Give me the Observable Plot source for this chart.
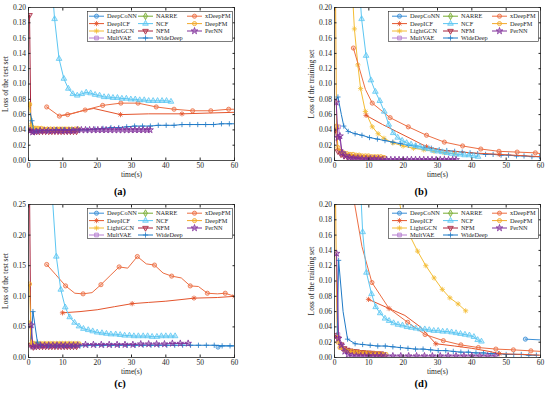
<!DOCTYPE html>
<html><head><meta charset="utf-8">
<script src="https://cdn.jsdelivr.net/npm/d3@7"></script>
<script src="https://cdn.jsdelivr.net/npm/@observablehq/plot@0.6"></script>
<style>
body{margin:0;background:#fff;font-family:"Liberation Serif",serif;}
#root{position:relative;width:550px;height:397px;overflow:hidden;background:#fff;}
.panel{position:absolute;width:240px;height:182px;}
.panel svg{overflow:visible;}
.legend{position:absolute;}
.tag{position:absolute;font-weight:bold;font-size:10.5px;transform:translate(-50%,-50%);color:#000;font-family:"Liberation Serif",serif;}
</style></head><body><div id="root"></div><script>
// ---------- names, ticks ----------
const seriesNames = ["DeepCoNN","NARRE","xDeepFM","DeepICF","NCF","DeepFM","LightGCN","NFM","PerNN","MultVAE","WideDeep"];
const xTicks = [0,10,20,30,40,50,60];
const yTicksTrain = [0,0.02,0.04,0.06,0.08,0.10,0.12,0.14,0.16,0.18,0.20];
const yTicksTestC = [0,0.05,0.10,0.15,0.20,0.25];
const panelTags = ["(a)","(b)","(c)","(d)"];
const yLabels = ["Loss of the test set","Loss of the training set","Loss of the test set","Loss of the training set"];
const xLabel = "time(s)";

// ---------- panel (a): test loss ----------
const a_DeepCoNN = [];
const a_NARRE = [];
const a_NCF = [[6.3,0.26,0],[7.6,0.185],[8.9,0.133],[10.3,0.107],[11.6,0.094],[12.9,0.087],[14.2,0.085],[15.5,0.087],[16.8,0.089],[18.1,0.088],[19.4,0.086],[20.7,0.085],[22.0,0.083],[23.3,0.083],[24.6,0.082],[25.9,0.082],[27.2,0.081],[28.5,0.081],[29.8,0.080],[31.1,0.080],[32.4,0.079],[33.7,0.079],[35.0,0.078],[36.3,0.078],[37.6,0.078],[38.9,0.078],[40.2,0.078],[41.5,0.077]];
const a_xDeepFM = [[5.3,0.070],[9.0,0.058],[11.4,0.060],[16.5,0.066],[21.6,0.072],[26.9,0.075],[31.9,0.075],[37.2,0.070],[42.4,0.067],[47.8,0.065],[53.1,0.065],[58.3,0.067],[60,0.067,0]];
const a_DeepICF = [[9.6,0.059,0],[12.5,0.061,0],[16.5,0.066,0],[19,0.068,0],[26.8,0.060],[35,0.061,0],[44.7,0.061],[60,0.063,0]];
const a_WideDeep = [[0.5,0.062,0],[1.0,0.052],[1.6,0.037],[2.4,0.039],[3.3,0.039],[5.6,0.039],[7.9,0.040],[10.2,0.040],[12.5,0.040],[14.8,0.040],[17.1,0.040],[19.4,0.041],[21.7,0.042],[24.0,0.043],[26.3,0.043],[28.6,0.044],[30.9,0.045],[33.2,0.045],[35.5,0.045],[37.8,0.046],[40.1,0.046],[42.4,0.046],[44.7,0.047],[47.0,0.047],[49.3,0.047],[51.6,0.047],[53.9,0.047],[56.2,0.048],[58.5,0.048],[60,0.048,0]];
const a_LightGCN = [[0.3,0.074],[0.8,0.046],[1.5,0.043],[2.5,0.042],[3.5,0.041],[4.5,0.041],[5.5,0.041],[6.5,0.041],[7.5,0.041],[8.5,0.041],[9.5,0.041],[10.5,0.041],[11.5,0.041],[12.5,0.041],[13.5,0.041],[14.5,0.041]];
const a_DeepFM = [[0.3,0.073],[1.0,0.044],[1.9,0.042],[2.8,0.042],[3.7,0.042],[4.6,0.041],[5.5,0.041],[6.4,0.041],[7.3,0.041],[8.2,0.041],[9.1,0.041],[10.0,0.041],[10.9,0.041],[11.8,0.041],[12.7,0.041],[13.6,0.041],[14.5,0.041]];
const a_NFM = [[0.3,0.190],[0.7,0.040],[1.4,0.038],[2.3,0.038],[3.2,0.038],[4.1,0.038],[5.0,0.038],[5.9,0.038],[6.8,0.038],[7.7,0.038],[8.6,0.038],[9.5,0.038],[10.4,0.038],[11.3,0.038],[12.2,0.038],[13.1,0.038],[14.0,0.038]];
const a_MultVAE = [[0.3,0.039],[1.2,0.039],[2.1,0.039],[3.0,0.039],[3.9,0.039],[4.8,0.039],[5.7,0.039],[6.6,0.039],[7.5,0.039],[8.4,0.039],[9.3,0.039],[10.2,0.039],[11.1,0.039],[12.0,0.039],[12.9,0.039],[13.8,0.039]];
const a_PerNN = [[0.5,0.039],[1.2,0.037],[2.2,0.038],[3.4,0.039],[4.6,0.039],[5.8,0.039],[7.0,0.039],[8.2,0.039],[9.4,0.039],[10.6,0.039],[11.8,0.039],[13.0,0.039],[14.2,0.040],[15.4,0.040],[16.6,0.040],[17.8,0.040],[19.0,0.040],[20.2,0.040],[21.4,0.040],[22.6,0.040],[23.8,0.040],[25.0,0.040],[26.2,0.040],[27.4,0.040],[28.6,0.040],[29.8,0.040],[31.0,0.040],[32.2,0.040],[33.4,0.040],[34.6,0.040],[35.4,0.040]];

// ---------- panel (b): training loss ----------
const b_DeepCoNN = [];
const b_NARRE = [];
const b_NCF = [[7.2,0.23,0],[7.9,0.185],[9.2,0.137],[10.6,0.105],[11.9,0.090],[13.2,0.078],[14.5,0.064],[15.8,0.047],[17.1,0.036],[18.4,0.030],[19.7,0.026],[21.0,0.023],[22.3,0.021],[23.6,0.019],[24.9,0.018],[26.2,0.016],[27.5,0.015],[28.8,0.013],[30.1,0.012],[31.4,0.011],[32.7,0.010],[34.0,0.009],[35.3,0.008],[36.6,0.008],[37.9,0.007],[39.2,0.007],[40.5,0.006],[41.8,0.005]];
const b_xDeepFM = [[5.5,0.147],[7.0,0.124,0],[9.0,0.093,0],[11.0,0.075],[16.2,0.056],[21.5,0.044],[26.8,0.033],[32.0,0.024],[37.3,0.019],[42.6,0.015],[47.9,0.012],[53.2,0.011],[58.5,0.010],[60,0.009,0]];
const b_DeepICF = [[9.2,0.059],[14,0.047,0],[18,0.038,0],[22,0.029,0],[26.8,0.018],[32,0.013,0],[40,0.010,0],[48,0.008],[60,0.005,0]];
const b_LightGCN = [[5.2,0.22,0],[5.8,0.172],[6.8,0.125],[7.6,0.094],[9.0,0.064],[11.0,0.044],[12.7,0.035],[14.4,0.029],[17.0,0.023],[20.0,0.019],[23.0,0.016],[26.0,0.014],[29.0,0.012],[32.0,0.010],[35.0,0.009]];
const b_WideDeep = [[0.5,0.080,0],[1.0,0.083],[2.0,0.060,0],[2.7,0.045],[4.0,0.038],[6.0,0.035],[8.0,0.033],[10.2,0.030],[12.5,0.028],[14.7,0.026],[17.0,0.024],[19.2,0.022],[21.5,0.020],[23.7,0.019],[26.0,0.017],[28.2,0.016],[30.5,0.014],[32.7,0.013],[35.0,0.012],[37.2,0.011],[39.5,0.010],[41.7,0.009],[44.0,0.008],[46.2,0.008],[48.5,0.007],[50.7,0.007],[53.0,0.006],[55.2,0.006],[57.5,0.005],[59.7,0.005]];
const b_PerNN = [[0.5,0.076],[1.0,0.030],[1.6,0.032],[2.2,0.010],[3.2,0.006],[4.4,0.004],[5.6,0.003],[6.8,0.003],[8.0,0.002],[9.2,0.002],[10.4,0.002],[11.6,0.002],[12.8,0.002],[14.0,0.001],[15.2,0.001],[16.4,0.001],[17.6,0.001],[18.8,0.001],[20.0,0.001],[21.2,0.001],[22.4,0.001],[23.6,0.001],[24.8,0.001],[26.0,0.001],[27.2,0.001],[28.4,0.001],[29.6,0.001],[30.8,0.001],[32.0,0.001],[33.2,0.001],[34.4,0.001],[35.4,0.001]];
const b_MultVAE = [[0.5,0.044],[1.2,0.044],[2.0,0.012],[2.9,0.008],[3.8,0.007],[4.7,0.006],[5.6,0.005],[6.5,0.005],[7.4,0.005],[8.3,0.004],[9.2,0.004],[10.1,0.004],[11.0,0.004],[11.9,0.004],[12.8,0.003],[13.7,0.003],[14.6,0.003]];
const b_DeepFM = [[0.3,0.22,0],[0.6,0.045],[1.0,0.017],[1.8,0.012],[2.7,0.010],[3.6,0.009],[4.5,0.008],[5.4,0.008],[6.3,0.007],[7.2,0.007],[8.1,0.006],[9.0,0.006],[9.9,0.006],[10.8,0.005],[11.7,0.005],[12.6,0.005],[13.5,0.005],[14.4,0.004]];
const b_NFM = [[0.3,0.040],[1.0,0.012],[1.9,0.008],[2.8,0.006],[3.7,0.005],[4.6,0.005],[5.5,0.004],[6.4,0.004],[7.3,0.004],[8.2,0.004],[9.1,0.003],[10.0,0.003],[10.9,0.003],[11.8,0.003],[12.7,0.003],[13.6,0.003]];

// ---------- panel (c): test loss ----------
const c_DeepCoNN = [[55.2,0.017],[56.6,0.019,0],[60,0.019,0]];
const c_NARRE = [];
const c_NCF = [[6.5,0.30,0],[8.1,0.165],[9.4,0.111],[10.7,0.082],[12.0,0.066],[13.4,0.057],[14.7,0.051],[16.0,0.047],[17.4,0.045],[18.7,0.043],[20.0,0.041],[21.4,0.040],[22.7,0.039],[24.0,0.038],[25.4,0.038],[26.7,0.037],[28.0,0.036],[29.4,0.036],[30.7,0.035],[32.0,0.035],[33.4,0.035],[34.7,0.035],[36.0,0.034],[37.4,0.034],[38.7,0.035],[40.0,0.035],[41.4,0.035],[42.7,0.035]];
const c_xDeepFM = [[5.3,0.152],[8.0,0.135,0],[10.8,0.117],[13.5,0.105,0],[15.9,0.104],[18.5,0.106,0],[21.1,0.119],[24.0,0.135,0],[26.4,0.148],[28.9,0.146,0],[31.7,0.165],[34.3,0.153,0],[36.7,0.151],[39.2,0.138,0],[41.7,0.133],[44.5,0.130,0],[47.1,0.117],[49.5,0.116,0],[52.1,0.105],[55.0,0.104,0],[57.3,0.105],[60,0.100,0]];
const c_DeepICF = [[9.9,0.073],[15,0.075,0],[20,0.078,0],[25,0.083,0],[30.2,0.088],[35,0.090,0],[40,0.092,0],[45,0.095,0],[48.2,0.097],[55,0.098,0],[60,0.100]];
const c_WideDeep = [[0.8,0.030,0],[1.3,0.075],[2.6,0.025],[3.5,0.020],[5.8,0.019],[8.1,0.019],[10.4,0.019],[12.7,0.019],[15.0,0.019],[17.3,0.020],[19.6,0.020],[21.9,0.020],[24.2,0.020],[26.5,0.020],[28.8,0.020],[31.1,0.020],[33.4,0.020],[35.7,0.020],[38.0,0.020],[40.3,0.020],[42.6,0.020],[44.9,0.020],[47.2,0.020],[49.5,0.020],[51.8,0.020],[54.1,0.020],[56.4,0.019],[58.7,0.019],[60,0.019,0]];
const c_LightGCN = [[0.3,0.060,0],[0.9,0.024],[1.8,0.023],[2.7,0.023],[3.6,0.023],[4.5,0.023],[5.4,0.023],[6.3,0.023],[7.2,0.023],[8.1,0.023],[9.0,0.023],[9.9,0.023],[10.8,0.023],[11.7,0.023],[12.6,0.023],[13.5,0.023],[14.4,0.023]];
const c_DeepFM = [[0.3,0.120],[0.8,0.030,0],[1.3,0.023],[2.2,0.022],[3.1,0.022],[4.0,0.022],[4.9,0.022],[5.8,0.022],[6.7,0.022],[7.6,0.022],[8.5,0.022],[9.4,0.022],[10.3,0.022],[11.2,0.022],[12.1,0.022],[13.0,0.022],[13.9,0.022],[14.8,0.022]];
const c_NFM = [[0.3,0.27,0],[0.7,0.020],[1.4,0.017],[2.3,0.018],[3.2,0.018],[4.1,0.018],[5.0,0.018],[5.9,0.018],[6.8,0.018],[7.7,0.018],[8.6,0.018],[9.5,0.018],[10.4,0.018],[11.3,0.018],[12.2,0.018],[13.1,0.018],[14.0,0.018]];
const c_MultVAE = [[0.4,0.020],[1.3,0.019],[2.2,0.019],[3.1,0.019],[4.0,0.019],[4.9,0.019],[5.8,0.019],[6.7,0.019],[7.6,0.019],[8.5,0.019],[9.4,0.019],[10.3,0.019],[11.2,0.019],[12.1,0.019],[13.0,0.019],[13.9,0.019]];
const c_PerNN = [[0.8,0.053],[1.3,0.018],[2.3,0.019],[3.5,0.020],[4.7,0.020],[5.9,0.020],[7.1,0.020],[8.3,0.020],[9.5,0.020],[10.7,0.020],[11.9,0.020],[13.1,0.020],[14.3,0.020],[16.6,0.021],[18.9,0.021],[21.2,0.021],[23.5,0.021],[25.8,0.021],[28.1,0.021],[30.4,0.021],[32.7,0.022],[35.0,0.022],[37.3,0.022],[39.6,0.022],[41.9,0.023],[44.2,0.023],[46.5,0.023]];

// ---------- panel (d): training loss ----------
const d_DeepCoNN = [[55.6,0.024],[60,0.023,0]];
const d_NARRE = [];
const d_NCF = [[7.5,0.23,0],[8.2,0.164],[9.3,0.111],[10.8,0.083],[12.0,0.066],[13.3,0.058],[14.7,0.051],[15.9,0.048],[17.2,0.045],[18.5,0.043],[19.8,0.042],[21.1,0.040],[22.4,0.039],[23.7,0.038],[25.0,0.037],[26.3,0.037],[27.6,0.036],[28.9,0.035],[30.2,0.035],[31.5,0.034],[32.8,0.034],[34.1,0.033],[35.4,0.032],[36.7,0.031],[38.0,0.030],[39.3,0.029],[40.6,0.027],[41.7,0.023],[42.8,0.021]];
const d_xDeepFM = [[5.5,0.21,0],[8.0,0.145,0],[10.9,0.098],[15.9,0.064,0],[21.3,0.046],[26.4,0.030],[31.7,0.022],[36.8,0.0165],[41.9,0.013],[47.0,0.011],[52.1,0.010],[57.2,0.0087],[60,0.008,0]];
const d_DeepICF = [[9.9,0.076],[15.9,0.064],[20.5,0.055,0],[25,0.040,0],[29.5,0.018],[35,0.015,0],[40,0.012,0],[45,0.008,0],[48,0.005],[55,0.004,0],[60,0.003,0]];
const d_LightGCN = [[18.6,0.21,0],[19.8,0.183,0],[21.3,0.165],[24.2,0.139],[26.6,0.120],[29.0,0.104],[31.4,0.089],[33.6,0.078],[36.0,0.070],[38.2,0.061]];
const d_WideDeep = [[0.8,0.030,0],[1.2,0.127],[2.5,0.060,0],[3.8,0.024],[6.0,0.018],[8.2,0.017],[10.4,0.016],[12.6,0.015],[14.8,0.015],[17.0,0.014],[19.2,0.013],[21.4,0.012],[23.6,0.011],[25.8,0.011],[28.0,0.010],[30.2,0.009],[32.4,0.009],[34.6,0.008],[36.8,0.007],[39.0,0.007],[41.2,0.006],[43.4,0.006],[45.6,0.005],[47.8,0.005],[50.0,0.004],[52.2,0.004],[54.4,0.004],[56.6,0.003],[58.8,0.003]];
const d_PerNN = [[0.6,0.136],[1.2,0.025],[2.0,0.016],[3.0,0.008],[4.0,0.004],[5.2,0.002],[6.4,0.002],[7.6,0.002],[8.8,0.002],[10.0,0.002],[11.2,0.002],[12.4,0.002],[13.6,0.002],[14.8,0.002],[17.0,0.002],[19.3,0.002],[21.6,0.002],[23.9,0.002],[26.2,0.002],[28.5,0.002],[30.8,0.002],[33.1,0.002],[35.4,0.002],[37.7,0.002],[40.0,0.002],[42.3,0.002],[44.6,0.002],[46.9,0.002]];
const d_MultVAE = [[0.5,0.100,0],[1.0,0.030],[1.9,0.014],[2.8,0.011],[3.7,0.009],[4.6,0.008],[5.5,0.007],[6.4,0.007],[7.3,0.006],[8.2,0.006],[9.1,0.006],[10.0,0.006],[10.9,0.005],[11.8,0.005],[12.7,0.005],[13.6,0.005]];
const d_DeepFM = [[0.3,0.21,0],[0.7,0.050,0],[1.0,0.020],[1.6,0.013],[2.5,0.011],[3.4,0.009],[4.3,0.008],[5.2,0.008],[6.1,0.007],[7.0,0.007],[7.9,0.006],[8.8,0.006],[9.7,0.006],[10.6,0.005],[11.5,0.005],[12.4,0.005],[13.3,0.005],[14.2,0.004],[15.0,0.004]];
const d_NFM = [[0.3,0.029],[1.0,0.025],[1.9,0.017],[2.8,0.012],[3.7,0.010],[4.6,0.009],[5.5,0.008],[6.4,0.008],[7.3,0.007],[8.2,0.007],[9.1,0.006],[10.0,0.006],[10.9,0.006],[11.8,0.005],[12.7,0.005],[13.6,0.005]];

// ---------- styles ----------
const symPlus = {draw(c, s){const r=Math.sqrt(s/Math.PI)*1.25; c.moveTo(-r,0);c.lineTo(r,0);c.moveTo(0,-r);c.lineTo(0,r);}};
const symAst = {draw(c, s){const r=Math.sqrt(s/Math.PI)*1.25, k=r*0.707; c.moveTo(-r,0);c.lineTo(r,0);c.moveTo(0,-r);c.lineTo(0,r);c.moveTo(-k,-k);c.lineTo(k,k);c.moveTo(-k,k);c.lineTo(k,-k);}};
const style = {
  DeepCoNN:{color:"#3b8fd6", sym:d3.symbolCircle},
  NARRE:{color:"#77ac30", sym:d3.symbolDiamond},
  xDeepFM:{color:"#ec6e43", sym:d3.symbolCircle},
  DeepICF:{color:"#e4552d", sym:symAst},
  NCF:{color:"#5cc6f2", sym:d3.symbolTriangle},
  DeepFM:{color:"#f2a92a", sym:d3.symbolCircle},
  LightGCN:{color:"#f4bd35", sym:symAst},
  NFM:{color:"#a8233d", sym:d3.symbolTriangle, rot:180},
  PerNN:{color:"#80309a", sym:d3.symbolStar},
  MultVAE:{color:"#b67fd0", sym:d3.symbolSquare},
  WideDeep:{color:"#1f7ac6", sym:symPlus}
};
const drawOrder = ["NARRE","DeepCoNN","MultVAE","NFM","DeepFM","LightGCN","WideDeep","DeepICF","xDeepFM","NCF","PerNN"];
const R = 2.1;
const ink = "#262626";

function buildData(prefix){
  const src = {a:{DeepCoNN:a_DeepCoNN,NARRE:a_NARRE,xDeepFM:a_xDeepFM,DeepICF:a_DeepICF,NCF:a_NCF,DeepFM:a_DeepFM,LightGCN:a_LightGCN,NFM:a_NFM,PerNN:a_PerNN,MultVAE:a_MultVAE,WideDeep:a_WideDeep},
    b:{DeepCoNN:b_DeepCoNN,NARRE:b_NARRE,xDeepFM:b_xDeepFM,DeepICF:b_DeepICF,NCF:b_NCF,DeepFM:b_DeepFM,LightGCN:b_LightGCN,NFM:b_NFM,PerNN:b_PerNN,MultVAE:b_MultVAE,WideDeep:b_WideDeep},
    c:{DeepCoNN:c_DeepCoNN,NARRE:c_NARRE,xDeepFM:c_xDeepFM,DeepICF:c_DeepICF,NCF:c_NCF,DeepFM:c_DeepFM,LightGCN:c_LightGCN,NFM:c_NFM,PerNN:c_PerNN,MultVAE:c_MultVAE,WideDeep:c_WideDeep},
    d:{DeepCoNN:d_DeepCoNN,NARRE:d_NARRE,xDeepFM:d_xDeepFM,DeepICF:d_DeepICF,NCF:d_NCF,DeepFM:d_DeepFM,LightGCN:d_LightGCN,NFM:d_NFM,PerNN:d_PerNN,MultVAE:d_MultVAE,WideDeep:d_WideDeep}};
  return src[prefix];
}

function legend(parent, left, top, w, cols){
  const h = 31;
  const svg = d3.select(parent).append("svg").attr("class","legend")
    .attr("width", w).attr("height", h).style("left", left+"px").style("top", top+"px");
  svg.append("rect").attr("x",0.5).attr("y",0.5).attr("width",w-1).attr("height",h-1)
    .attr("fill","#fff").attr("stroke",ink).attr("stroke-width",0.6);
  const rows = [5.2, 12.6, 20.0, 27.0];
  seriesNames.forEach((name, i) => {
    const st = style[name];
    const cx = cols[i % 3], cy = rows[Math.floor(i / 3)];
    const g = svg.append("g");
    g.append("line").attr("x1",cx).attr("x2",cx+15).attr("y1",cy).attr("y2",cy).attr("stroke",st.color).attr("stroke-width",1);
    g.append("path").attr("d", d3.symbol().type(st.sym).size(R*R*Math.PI)())
      .attr("transform",`translate(${cx+7.5},${cy}) rotate(${st.rot||0})`)
      .attr("fill",st.color).attr("fill-opacity",0.3).attr("stroke",st.color).attr("stroke-width",0.8);
    g.append("text").attr("x",cx+18).attr("y",cy).attr("dy","0.33em")
      .attr("font-family","Liberation Serif").attr("font-size",6.3).attr("fill",ink).text(name);
  });
}

function panel(key, idx, yMax, yTicks, left, top, tagX, tagY, legLeft, legW, legCols){
  const root = document.getElementById("root");
  const div = document.createElement("div");
  div.className = "panel";
  div.style.left = left + "px"; div.style.top = top + "px";
  root.appendChild(div);
  const data = buildData(key);
  const marks = [];
  for (const name of drawOrder) {
    const pts = data[name];
    if (!pts.length) continue;
    const st = style[name];
    marks.push(Plot.line(pts, {x: d => d[0], y: d => d[1], stroke: st.color, strokeWidth: 1, clip: true}));
    marks.push(Plot.dot(pts.filter(d => d[2] !== 0), {x: d => d[0], y: d => d[1], symbol: st.sym, r: R,
      stroke: st.color, fill: st.color, fillOpacity: 0.3, strokeWidth: 0.8, rotate: st.rot || 0, clip: true}));
  }
  const fmt = d3.format(".2f");
  const chart = Plot.plot({
    width: 240, height: 182,
    marginLeft: 28, marginRight: 6, marginTop: 7, marginBottom: 22,
    style: {fontFamily: "Liberation Serif", fontSize: "7.5px", color: ink, background: "transparent"},
    x: {domain: [0, 60]},
    y: {domain: [0, yMax]},
    marks: [
      ...marks,
      Plot.axisX({ticks: xTicks, tickSize: -2.5, tickPadding: 5, fontSize: 7.5, label: xLabel, labelAnchor: "center", labelArrow: "none", labelOffset: 16, stroke: ink}),
      Plot.axisX({anchor: "top", ticks: xTicks, tickSize: -2.5, tickFormat: () => "", label: null, stroke: ink}),
      Plot.axisY({ticks: yTicks, tickSize: -2.5, tickPadding: 5, tickFormat: fmt, fontSize: 7.5, label: yLabels[idx], labelAnchor: "center", labelArrow: "none", labelOffset: 26, stroke: ink}),
      Plot.axisY({anchor: "right", ticks: yTicks, tickSize: -2.5, tickFormat: () => "", label: null, stroke: ink}),
      Plot.frame({stroke: ink, strokeWidth: 0.8})
    ]
  });
  div.appendChild(chart);
  legend(div, legLeft, 11, legW, legCols);
  const t = document.createElement("div");
  t.className = "tag"; t.textContent = panelTags[idx];
  t.style.left = tagX + "px"; t.style.top = tagY + "px";
  root.appendChild(t);
}

panel("a", 0, 0.20, yTicksTrain, 0, 0, 120, 191, 87, 146, [2, 51, 100]);
panel("b", 1, 0.20, yTicksTrain, 306, 0, 421, 191, 82, 151, [4, 55, 104]);
panel("c", 2, 0.25, yTicksTestC, 0, 197, 120, 383, 87, 146, [2, 51, 100]);
panel("d", 3, 0.20, yTicksTrain, 306, 197, 421, 383, 82, 151, [4, 55, 104]);
</script></body></html>
